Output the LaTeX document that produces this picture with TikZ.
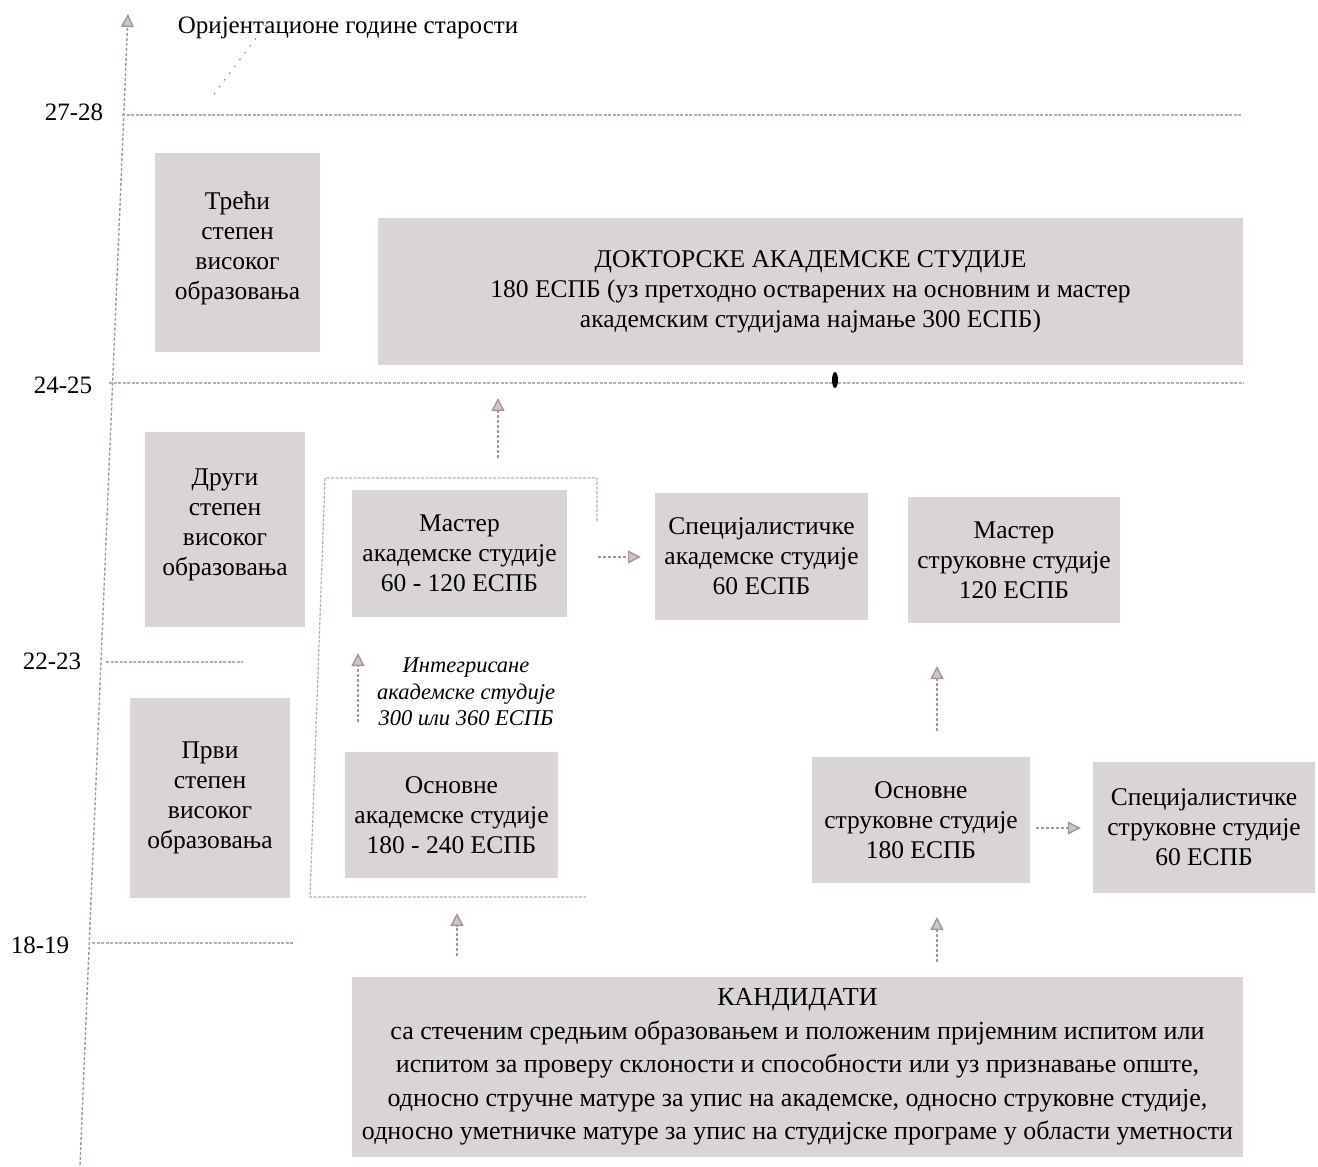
\documentclass[tikz,border=0pt]{standalone}
\usepackage{fontspec}
\setmainfont{Liberation Serif}
\usetikzlibrary{arrows.meta}
\definecolor{boxfill}{RGB}{218,213,213}
\definecolor{linec}{RGB}{190,170,175}
\definecolor{arrc}{RGB}{165,150,155}
\begin{document}
\begin{tikzpicture}[x=1pt,y=-1pt,
  box/.style={fill=boxfill, inner sep=0pt, align=center, font=\fontsize{25.5}{30}\selectfont},
  lbl/.style={inner sep=0pt, font=\fontsize{25}{28}\selectfont},
  guide/.style={draw=linec, line width=1.2pt, dash pattern=on 3pt off 1.5pt},
  uparr/.style={draw=arrc, line width=1.4pt, dash pattern=on 3pt off 2pt, -{Triangle[length=13pt,width=13pt,fill=arrc!55!white]}}]
\useasboundingbox (0,0) rectangle (1318,1167);

% axis and labels
\coordinate (axb) at (80,1165);
\coordinate (axt) at (128,14);
\draw[uparr] (axb) -- (axt);
\node[lbl] (title) at (348,28) {Оријентационе године старости};
\node[lbl] (l27) at (74,112) {27-28};
\node[lbl] (l24) at (63,385) {24-25};
\node[lbl] (l22) at (52,661) {22-23};
\node[lbl] (l18) at (40,945) {18-19};

% horizontal guides
\coordinate (g27a) at (122,115); \coordinate (g27b) at (1242,115);
\coordinate (g24a) at (109,383); \coordinate (g24b) at (1244,383);
\coordinate (g22a) at (106,662); \coordinate (g22b) at (243,662);
\coordinate (g18a) at (92,943);  \coordinate (g18b) at (293,943);
\draw[guide] (g27a) -- (g27b);
\draw[guide] (g24a) -- (g24b);
\draw[guide] (g22a) -- (g22b);
\draw[guide] (g18a) -- (g18b);

% scan marks
\coordinate (s1) at (214,94); \coordinate (s2) at (268,22);
\draw[draw=linec!70!black, line width=1pt, dash pattern=on 1.5pt off 7pt] (s1) -- (s2);
\fill (835,380) ellipse (3pt and 8pt);

% boxes
\node[box, minimum width=165pt, minimum height=199pt, text depth=14pt] (treci) at (237.5,252.5) {Трећи\\степен\\високог\\образовања};
\node[box, minimum width=865pt, minimum height=147pt] (dok) at (810.5,291.5) {ДОКТОРСКЕ АКАДЕМСКЕ СТУДИЈЕ\\180 ЕСПБ (уз претходно остварених на основним и мастер\\академским студијама најмање 300 ЕСПБ)};
\node[box, minimum width=160pt, minimum height=195pt, text depth=14pt] (drugi) at (225,529.5) {Други\\степен\\високог\\образовања};
\node[box, minimum width=215pt, minimum height=127pt] (mastak) at (459.5,553.5) {Мастер\\академске студије\\60 - 120 ЕСПБ};
\node[box, minimum width=213pt, minimum height=127pt] (specak) at (761.5,556.5) {Специјалистичке\\академске студије\\60 ЕСПБ};
\node[box, minimum width=212pt, minimum height=126pt] (mastst) at (1014,560) {Мастер\\струковне студије\\120 ЕСПБ};
\node[box, minimum width=160pt, minimum height=200pt] (prvi) at (210,798) {Први\\степен\\високог\\образовања};
\node[box, minimum width=213pt, minimum height=126pt] (osnak) at (451.5,815) {Основне\\академске студије\\180 - 240 ЕСПБ};
\node[box, minimum width=218pt, minimum height=126pt] (osnst) at (921,820) {Основне\\струковне студије\\180 ЕСПБ};
\node[box, minimum width=222pt, minimum height=131pt] (specst) at (1204,827.5) {Специјалистичке\\струковне студије\\60 ЕСПБ};
\node[box, minimum width=891pt, minimum height=180pt, font=\fontsize{26}{33.5}\selectfont] (kand) at (797.5,1067) {КАНДИДАТИ\\са стеченим средњим образовањем и положеним пријемним испитом или\\испитом за проверу склоности и способности или уз признавање опште,\\односно стручне матуре за упис на академске, односно струковне студије,\\односно уметничке матуре за упис на студијске програме у области уметности};

% integrated studies label
\node[inner sep=0pt, align=center, font=\itshape\fontsize{22.5}{26.5}\selectfont] (integ) at (466,692) {Интегрисане\\академске студије\\300 или 360 ЕСПБ};

% frame around academic studies
\coordinate (fr1) at (597,521);
\coordinate (fr2) at (597,478);
\coordinate (fr3) at (325,478);
\coordinate (fr4) at (310,897);
\coordinate (fr5) at (586,897);
\draw[guide] (fr1) -- (fr2) -- (fr3) -- (fr4) -- (fr5);

% arrows
\coordinate (a1s) at (498,458); \coordinate (a1e) at (498,398);
\draw[uparr] (a1s) -- (a1e);
\draw[uparr] ([xshift=31pt]mastak.east |- 0,557) -- ([xshift=-14pt]specak.west |- 0,557);
\coordinate (a3s) at (358,722); \coordinate (a3e) at (358,653);
\draw[uparr] (a3s) -- (a3e);
\coordinate (a4s) at (937,731); \coordinate (a4e) at (937,666);
\draw[uparr] (a4s) -- (a4e);
\draw[uparr] ([xshift=6pt]osnst.east |- 0,828) -- ([xshift=-12pt]specst.west |- 0,828);
\coordinate (a6s) at (457,956); \coordinate (a6e) at (457,913);
\draw[uparr] (a6s) -- (a6e);
\coordinate (a7s) at (937,962); \coordinate (a7e) at (937,917);
\draw[uparr] (a7s) -- (a7e);
\end{tikzpicture}
\end{document}
